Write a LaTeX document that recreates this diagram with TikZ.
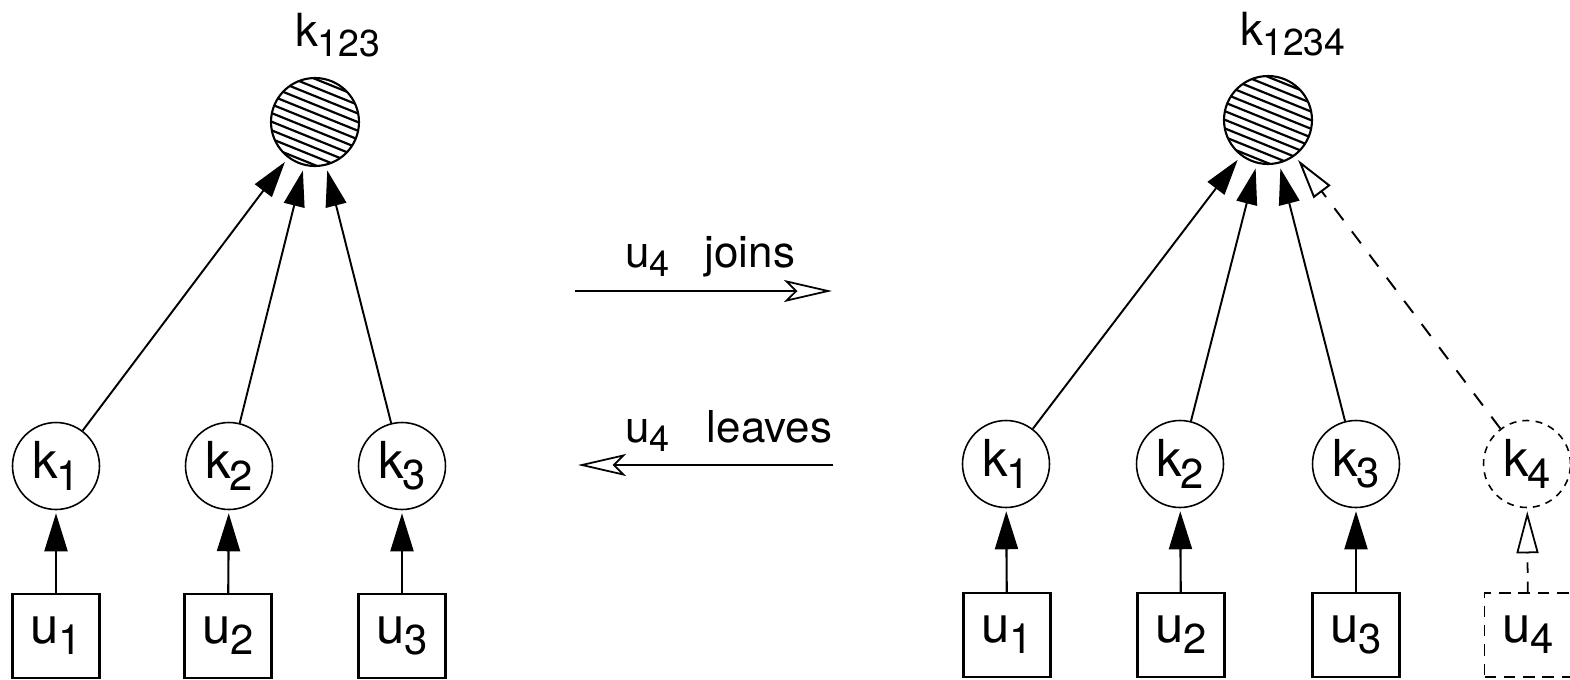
\documentclass[tikz,border=0pt]{standalone}
\usepackage{fontspec}
\setmainfont{TeX Gyre Heros}
\usetikzlibrary{arrows.meta,calc}
% lowered, slightly smaller index set close to its letter, as in k_1, u_4
\newcommand\ksub[1]{\kern-0.02em\raisebox{-0.22em}{\scalebox{0.82}{#1}}}

\begin{document}
\begin{tikzpicture}[x=0.02cm,y=-0.02cm,
  line width=1.1pt,
  keynode/.style={circle,draw,line width=0.9pt,minimum size=1.74cm,inner sep=0pt,
    font=\fontsize{29}{30}\selectfont},
  dkeynode/.style={keynode,dash pattern=on 4pt off 3.5pt},
  usernode/.style={rectangle,draw,line width=1.2pt,minimum width=1.74cm,
    minimum height=1.68cm,inner sep=0pt,font=\fontsize{29}{30}\selectfont},
  dusernode/.style={usernode,line width=1pt,dash pattern=on 6.5pt off 4.5pt},
  groupnode/.style={circle,draw,line width=1.2pt,minimum size=1.76cm,inner sep=0pt},
  toplabel/.style={font=\fontsize{26}{28}\selectfont,inner sep=0pt},
  actlabel/.style={font=\fontsize{25}{27}\selectfont,anchor=base west,inner sep=0pt},
  upedge/.style={line width=1.2pt,-{Triangle[length=0.76cm,width=0.46cm]},shorten >=1.7pt},
  dupedge/.style={line width=1pt,dash pattern=on 6pt off 5pt,
    -{Triangle[open,length=0.84cm,width=0.44cm]},shorten >=1.7pt},
  keyedge/.style={-{Triangle[length=0.72cm,width=0.42cm]},shorten >=2.8pt},
  dkeyedge/.style={dash pattern=on 8.5pt off 8pt,
    -{Triangle[open,length=0.8cm,width=0.42cm]},shorten >=2.8pt},
  actarrow/.style={line width=1pt,-{Stealth[open,length=0.96cm,width=0.44cm,inset=0.22cm]}}
]
\useasboundingbox (0,0) rectangle (1570,680);

% ---------- left tree ----------
\node[groupnode] (h1) at (315,122) {};
\node[toplabel] (l1) at (338,35) {k\ksub{123}};
\node[keynode] (a1) at (56,466) {k\ksub{1}};
\node[keynode] (a2) at (229,466) {k\ksub{2}};
\node[keynode] (a3) at (402,466) {k\ksub{3}};
\node[usernode] (b1) at (56,636) {u\ksub{1}};
\node[usernode] (b2) at (228,636) {u\ksub{2}};
\node[usernode] (b3) at (402,636) {u\ksub{3}};

% ---------- right tree ----------
\node[groupnode] (h2) at (1268,120) {};
\node[toplabel] (l2) at (1293,34) {k\ksub{1234}};
\node[keynode] (c1) at (1006,464) {k\ksub{1}};
\node[keynode] (c2) at (1180,464) {k\ksub{2}};
\node[keynode] (c3) at (1356,464) {k\ksub{3}};
\node[dkeynode] (c4) at (1527,464) {k\ksub{4}};
\node[usernode] (d1) at (1007,635) {u\ksub{1}};
\node[usernode] (d2) at (1181,635) {u\ksub{2}};
\node[usernode] (d3) at (1356,635) {u\ksub{3}};
\node[dusernode] (d4) at (1528,635) {u\ksub{4}};

% hatching of the group key circles
\foreach \h in {h1,h2}{
  \begin{scope}
    \clip (\h.center) circle (44);
    \foreach \i in {-6,...,6}
      \draw[line width=1.25pt]
        ($(\h.center)+({-60*0.927-\i*8*0.375},{-60*0.375+\i*8*0.927})$) --
        ($(\h.center)+({60*0.927-\i*8*0.375},{60*0.375+\i*8*0.927})$);
  \end{scope}
}

% ---------- edges ----------
\foreach \u/\k in {b1/a1,b2/a2,b3/a3,d1/c1,d2/c2,d3/c3}
  \draw[upedge] (\u) -- (\k);
\draw[dupedge] (d4) -- (c4);

\foreach \k in {a1,a2,a3}
  \draw[keyedge] (\k) -- (h1);
\foreach \k in {c1,c2,c3}
  \draw[keyedge] (\k) -- (h2);
\draw[dkeyedge] (c4) -- (h2);

% ---------- transition arrows ----------
\coordinate (j1) at (575,291);
\coordinate (j2) at (832,291);
\coordinate (v1) at (833,465);
\coordinate (v2) at (578,465);
\draw[actarrow] (j1) -- (j2);
\draw[actarrow] (v1) -- (v2);
\node[actlabel] (t1) at (625,267) {u\ksub{4}\hspace{0.8em}joins};
\node[actlabel] (t2) at (625,442) {u\ksub{4}\hspace{0.85em}leaves};

\end{tikzpicture}
\end{document}
